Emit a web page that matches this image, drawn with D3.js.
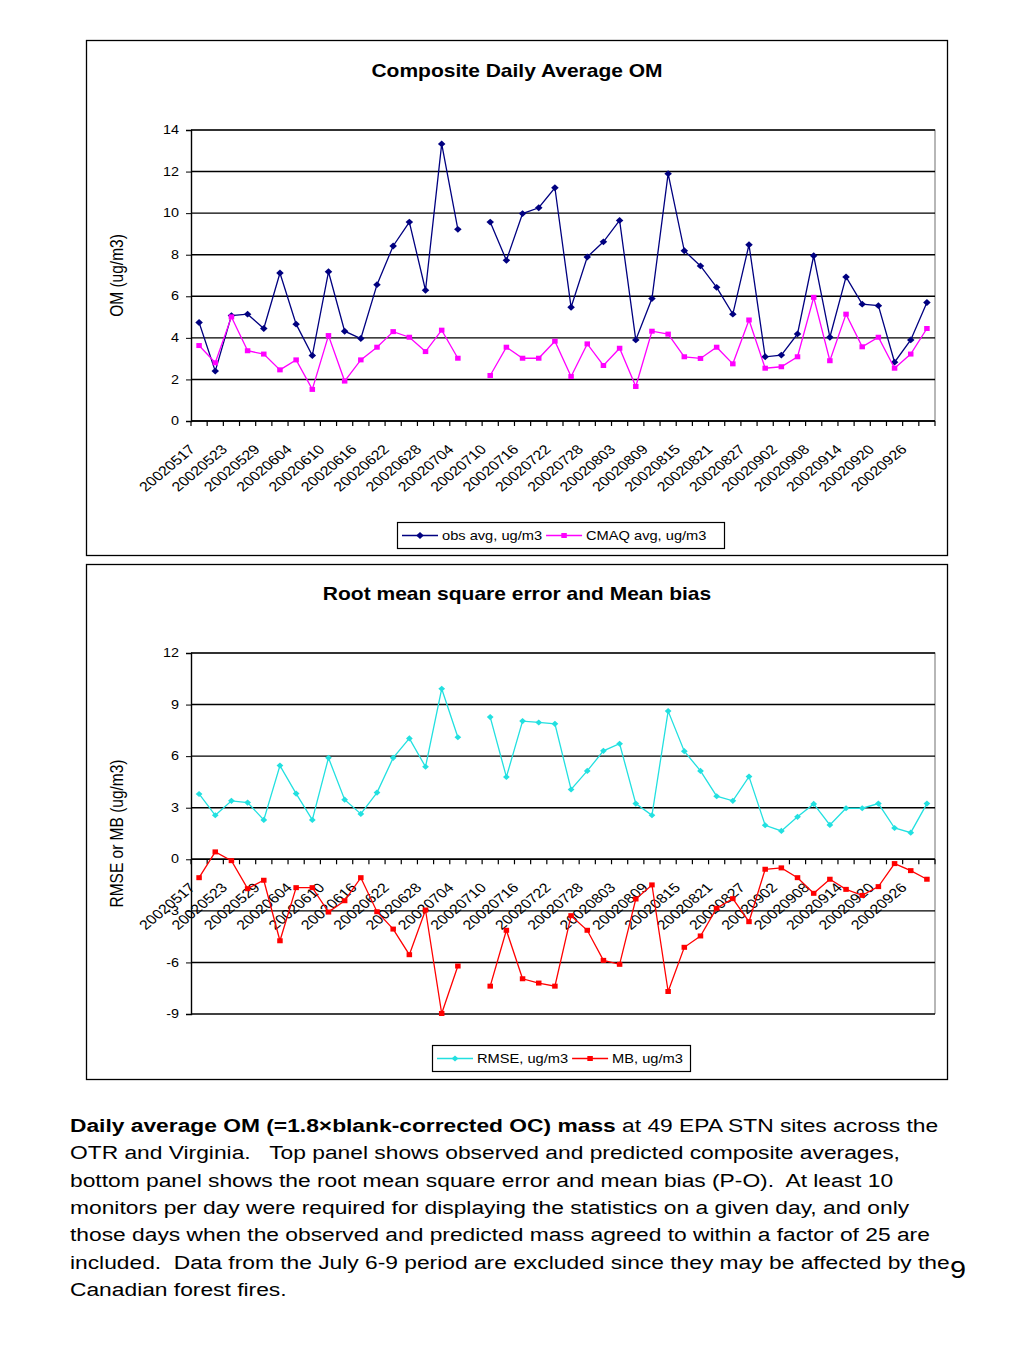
<!DOCTYPE html>
<html><head><meta charset="utf-8">
<script src="https://cdn.jsdelivr.net/npm/d3@7"></script>
<style>
body{margin:0;background:#fff;}
svg{display:block;font-family:"Liberation Sans",Arial,sans-serif;}
</style></head>
<body>
<svg id="c" width="1024" height="1365"></svg>
<script>
const dates = ["20020517","20020520","20020523","20020526","20020529","20020601","20020604","20020607","20020610","20020613","20020616","20020619","20020622","20020625","20020628","20020701","20020704","20020707","20020710","20020713","20020716","20020719","20020722","20020725","20020728","20020731","20020803","20020806","20020809","20020812","20020815","20020818","20020821","20020824","20020827","20020830","20020902","20020905","20020908","20020911","20020914","20020917","20020920","20020923","20020926","20020929"];
const obsAvg = [4.74,2.4,5.07,5.14,4.45,7.12,4.66,3.15,7.18,4.32,3.97,6.56,8.42,9.57,6.29,13.33,9.22,null,9.57,7.73,9.98,10.26,11.22,5.47,7.89,8.62,9.65,3.9,5.89,11.9,8.19,7.46,6.43,5.14,8.48,3.09,3.17,4.19,7.95,4.03,6.93,5.62,5.55,2.83,3.9,5.7];
const cmaqAvg = [3.63,2.8,5.01,3.38,3.22,2.46,2.94,1.52,4.11,1.92,2.94,3.55,4.3,4.03,3.34,4.37,3.02,null,2.19,3.55,3.02,3.02,3.84,2.14,3.71,2.67,3.5,1.66,4.32,4.18,3.09,3.01,3.55,2.75,4.86,2.54,2.61,3.09,5.95,2.9,5.14,3.57,4.03,2.54,3.22,4.45];
const rmse = [3.8,2.56,3.4,3.3,2.29,5.45,3.82,2.29,5.9,3.47,2.64,3.88,5.9,7.03,5.38,9.92,7.1,null,8.27,4.79,8.04,7.96,7.88,4.06,5.14,6.31,6.72,3.24,2.56,8.62,6.29,5.14,3.67,3.4,4.81,1.98,1.65,2.47,3.22,2.0,2.97,2.97,3.24,1.82,1.55,3.24];
const mb = [-1.07,0.43,-0.08,-1.71,-1.22,-4.74,-1.65,-1.65,-3.07,-2.41,-1.07,-3.05,-4.06,-5.55,-2.95,-8.97,-6.21,null,-7.38,-4.13,-6.95,-7.2,-7.38,-3.28,-4.13,-5.88,-6.11,-2.31,-1.49,-7.69,-5.12,-4.46,-2.85,-2.29,-3.63,-0.58,-0.5,-1.07,-1.98,-1.16,-1.75,-2.1,-1.59,-0.25,-0.66,-1.16];
const topTicks = [0,2,4,6,8,10,12,14];
const botTicks = [-9,-6,-3,0,3,6,9,12];
const captionLines = [
 [["Daily average OM (=1.8×blank-corrected OC) mass",true],[" at 49 EPA STN sites across the",false]],
 [["OTR and Virginia.   Top panel shows observed and predicted composite averages,",false]],
 [["bottom panel shows the root mean square error and mean bias (P-O).  At least 10",false]],
 [["monitors per day were required for displaying the statistics on a given day, and only",false]],
 [["those days when the observed and predicted mass agreed to within a factor of 25 are",false]],
 [["included.  Data from the July 6-9 period are excluded since they may be affected by the",false]],
 [["Canadian forest fires.",false]]
];

const SX = 1.2; // horizontal stretch of glyphs seen in the reference
const svg = d3.select("#c");

function stext(g, x, y, size, str, opts={}){
  const t = g.append("text").attr("transform",`translate(${x},${y}) scale(${SX},1)`)
    .attr("font-size",size).attr("text-anchor",opts.anchor||"start").attr("fill","#000").text(str);
  if(opts.bold) t.attr("font-weight","bold");
  if(opts.dy) t.attr("dy",opts.dy);
  return t;
}

function panel(cfg){
  const g = svg.append("g");
  g.append("rect").attr("x",cfg.box[0]+0.5).attr("y",cfg.box[1]+0.5).attr("width",cfg.box[2]).attr("height",cfg.box[3])
    .attr("fill","#fff").attr("stroke","#000").attr("stroke-width",1.3);
  stext(g,517,cfg.titleY,17.5,cfg.title,{anchor:"middle",bold:true});
  const x = d3.scaleBand().domain(dates).range([191,935]).padding(0);
  const y = d3.scaleLinear().domain(cfg.domain).range([cfg.plot[1],cfg.plot[0]]);
  g.append("path").attr("d",`M191,${cfg.plot[0]}H935V${cfg.plot[1]}`).attr("fill","none").attr("stroke","#888").attr("stroke-width",1.2);
  g.selectAll(null).data(cfg.ticks).enter().append("line")
    .attr("x1",191).attr("x2",935).attr("y1",d=>y(d)).attr("y2",d=>y(d))
    .attr("stroke","#000").attr("stroke-width",1.4);
  const ya = g.append("g").attr("transform","translate(191,0)")
    .call(d3.axisLeft(y).tickValues(cfg.ticks).tickSize(5).tickFormat(""));
  ya.select(".domain").attr("stroke","#000").attr("stroke-width",1.4);
  cfg.ticks.forEach(v=>stext(g,179,y(v),12,String(v),{anchor:"end",dy:"0.35em"}));
  const y0 = y(0);
  g.append("line").attr("x1",191).attr("x2",935).attr("y1",y0).attr("y2",y0).attr("stroke","#000").attr("stroke-width",1.4);
  const edges = dates.map(d=>x(d)).concat([x(dates[dates.length-1])+x.bandwidth()]);
  g.selectAll(null).data(edges).enter().append("line")
    .attr("x1",d=>d).attr("x2",d=>d).attr("y1",y0).attr("y2",y0+5).attr("stroke","#000").attr("stroke-width",1.2);
  g.selectAll(null).data(dates.filter((d,i)=>i%2===0 && i<45)).enter().append("text")
    .attr("transform",d=>`translate(${x(d)+x.bandwidth()/2-7},${y0+26}) scale(${SX},1) rotate(-45)`)
    .attr("text-anchor","end").attr("dy","0.35em").attr("font-size",13.3).text(d=>d);
  g.append("text").attr("transform",`translate(123,${(cfg.plot[0]+cfg.plot[1])/2}) rotate(-90) scale(1,${SX})`)
    .attr("text-anchor","middle").attr("font-size",cfg.ylabelSize).text(cfg.ylabel);
  const cx = i => x(dates[i]) + x.bandwidth()/2;
  cfg.series.forEach(s=>{
    const line = d3.line().defined(d=>d!=null).x((d,i)=>cx(i)).y(d=>y(d));
    g.append("path").datum(s.values).attr("d",line).attr("fill","none").attr("stroke",s.color).attr("stroke-width",1.3);
    const pts = s.values.map((v,i)=>({v,i})).filter(p=>p.v!=null);
    if(s.marker==="diamond"){
      g.selectAll(null).data(pts).enter().append("path")
        .attr("d",d3.symbol().type(d3.symbolDiamond2).size(s.msize))
        .attr("transform",p=>`translate(${cx(p.i)},${y(p.v)}) scale(1.1,1)`).attr("fill",s.color);
    } else {
      g.selectAll(null).data(pts).enter().append("rect")
        .attr("x",p=>cx(p.i)-2.75).attr("y",p=>y(p.v)-2.5).attr("width",5.5).attr("height",5).attr("fill",s.color);
    }
  });
  const L = cfg.legend;
  const lg = g.append("g");
  lg.append("rect").attr("x",L.x+0.5).attr("y",L.y+0.5).attr("width",L.w).attr("height",26).attr("fill","#fff").attr("stroke","#000").attr("stroke-width",1.2);
  let lx = L.x+5;
  cfg.series.forEach((s,k)=>{
    lg.append("line").attr("x1",lx).attr("x2",lx+36).attr("y1",L.y+13.5).attr("y2",L.y+13.5).attr("stroke",s.color).attr("stroke-width",1.3);
    if(s.marker==="diamond"){
      lg.append("path").attr("d",d3.symbol().type(d3.symbolDiamond2).size(s.msize)).attr("transform",`translate(${lx+18},${L.y+13.5}) scale(1.1,1)`).attr("fill",s.color);
    } else {
      lg.append("rect").attr("x",lx+15.25).attr("y",L.y+11).attr("width",5.5).attr("height",5).attr("fill",s.color);
    }
    const t = stext(lg,lx+40,L.y+18,12.2,s.name);
    lx += 40 + t.node().getBBox().width*SX + 4;
  });
}

panel({box:[86,40,861,515],title:"Composite Daily Average OM",titleY:77,plot:[130,421],domain:[0,14],ticks:topTicks,
  ylabel:"OM (ug/m3)",ylabelSize:15.5,legend:{x:397,y:522,w:327},
  series:[{name:"obs avg, ug/m3",values:obsAvg,color:"#000080",marker:"diamond",msize:30},
          {name:"CMAQ avg, ug/m3",values:cmaqAvg,color:"#FF00FF",marker:"square"}]});
panel({box:[86,564,861,515],title:"Root mean square error and Mean bias",titleY:600,plot:[653,1014],domain:[-9,12],ticks:botTicks,
  ylabel:"RMSE or MB (ug/m3)",ylabelSize:15.5,legend:{x:432,y:1045,w:258},
  series:[{name:"RMSE, ug/m3",values:rmse,color:"#22E0E0",marker:"diamond",msize:24},
          {name:"MB, ug/m3",values:mb,color:"#FF0000",marker:"square"}]});

const cap = svg.append("g");
captionLines.forEach((parts,i)=>{
  const t = cap.append("text").attr("transform",`translate(70,${1132+i*27.3}) scale(${SX},1)`)
    .attr("font-size",19).attr("fill","#000").style("white-space","pre");
  parts.forEach(p=>t.append("tspan").attr("font-weight",p[1]?"bold":"normal").text(p[0]));
});
stext(svg,950,1278,24,"9");
</script>
</body></html>
